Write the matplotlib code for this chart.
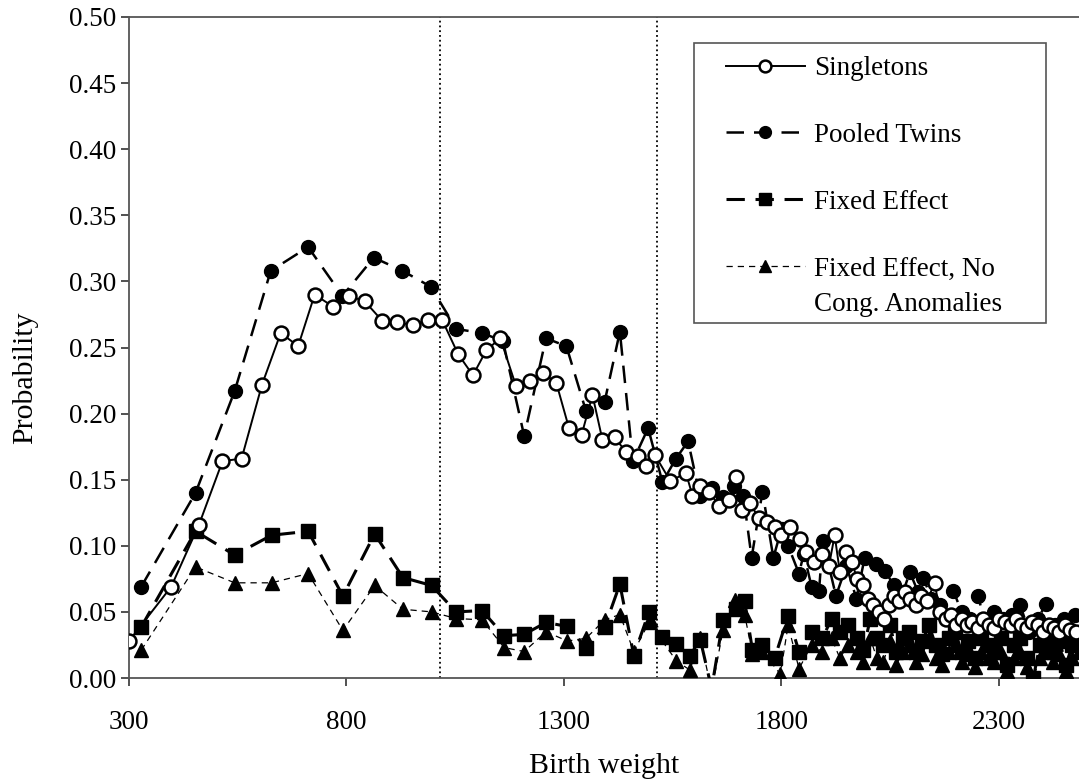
import matplotlib
matplotlib.use("Agg")
import matplotlib.pyplot as plt
from matplotlib.ticker import FormatStrFormatter
from matplotlib.patches import Rectangle

plt.rcParams['font.family'] = ['Liberation Serif', 'DejaVu Serif']

# ---- data ----
single_x = [300, 397, 461, 515, 559, 606, 649, 689, 727, 769, 806, 842, 883, 917, 953, 988, 1020,
            1057, 1091, 1122, 1154, 1190, 1222, 1252, 1283, 1312, 1341, 1366, 1389, 1417, 1443, 1471,
            1490, 1509, 1545, 1581, 1596, 1613, 1635, 1657, 1680, 1697, 1709, 1728, 1749, 1768, 1785,
            1800, 1820, 1843, 1858, 1875, 1895, 1910, 1923, 1935, 1950, 1962, 1975, 1988, 2000, 2012,
            2024, 2036, 2048, 2060, 2072, 2085, 2097, 2110, 2122, 2135, 2153, 2165, 2178, 2190, 2202,
            2215, 2228, 2240, 2252, 2265, 2278, 2290, 2302, 2315, 2328, 2340, 2352, 2365, 2378, 2390,
            2402, 2415, 2428, 2440, 2452, 2465, 2478]
single_y = [0.028, 0.069, 0.116, 0.164, 0.166, 0.222, 0.261, 0.251, 0.290, 0.281, 0.289, 0.285, 0.270,
            0.269, 0.267, 0.271, 0.271, 0.245, 0.229, 0.248, 0.257, 0.221, 0.225, 0.231, 0.223, 0.189,
            0.184, 0.214, 0.180, 0.182, 0.171, 0.168, 0.160, 0.169, 0.149, 0.155, 0.138, 0.145, 0.141,
            0.130, 0.135, 0.152, 0.127, 0.132, 0.121, 0.118, 0.114, 0.108, 0.114, 0.105, 0.095, 0.088,
            0.094, 0.085, 0.108, 0.080, 0.095, 0.088, 0.075, 0.070, 0.060, 0.055, 0.050, 0.045, 0.055,
            0.062, 0.058, 0.065, 0.060, 0.055, 0.062, 0.058, 0.072, 0.050, 0.045, 0.048, 0.040, 0.045,
            0.040, 0.042, 0.038, 0.045, 0.040, 0.038, 0.045, 0.042, 0.040, 0.045, 0.040, 0.038, 0.042,
            0.040, 0.035, 0.040, 0.038, 0.035, 0.040, 0.036, 0.035]

twins_x = [328, 453, 543, 626, 712, 791, 863, 929, 994, 1053, 1111, 1160, 1209, 1259, 1306, 1351, 1394,
           1429, 1459, 1494, 1527, 1558, 1586, 1613, 1642, 1666, 1691, 1713, 1732, 1757, 1782, 1801,
           1816, 1841, 1852, 1870, 1887, 1896, 1926, 1950, 1973, 1992, 2019, 2038, 2060, 2075, 2096,
           2115, 2127, 2145, 2165, 2196, 2215, 2235, 2253, 2270, 2290, 2310, 2330, 2350, 2370, 2390,
           2410, 2430, 2450, 2475]
twins_y = [0.069, 0.140, 0.217, 0.308, 0.326, 0.289, 0.318, 0.308, 0.296, 0.264, 0.261, 0.255, 0.183,
           0.257, 0.251, 0.202, 0.209, 0.262, 0.164, 0.189, 0.148, 0.166, 0.179, 0.138, 0.144, 0.137,
           0.145, 0.138, 0.091, 0.141, 0.091, 0.113, 0.100, 0.079, 0.094, 0.069, 0.066, 0.104, 0.062,
           0.085, 0.060, 0.091, 0.086, 0.081, 0.070, 0.060, 0.080, 0.065, 0.076, 0.060, 0.055, 0.066,
           0.050, 0.045, 0.062, 0.040, 0.050, 0.045, 0.048, 0.055, 0.035, 0.045, 0.056, 0.040, 0.045,
           0.048]

fe_x = [328, 453, 543, 628, 712, 792, 865, 930, 996, 1052, 1112, 1163, 1209, 1259, 1308, 1351, 1394,
        1429, 1461, 1496, 1526, 1559, 1590, 1614, 1640, 1666, 1696, 1716, 1734, 1757, 1785, 1816, 1841,
        1870, 1895, 1916, 1935, 1954, 1975, 1989, 2005, 2020, 2035, 2050, 2065, 2080, 2095, 2110, 2125,
        2140, 2155, 2170, 2185, 2200, 2215, 2230, 2245, 2260, 2275, 2290, 2305, 2320, 2335, 2350, 2365,
        2380, 2395, 2410, 2425, 2440, 2455, 2470, 2485]
fe_y = [0.0385, 0.111, 0.093, 0.108, 0.111, 0.062, 0.109, 0.076, 0.070, 0.050, 0.051, 0.032, 0.033,
        0.042, 0.039, 0.023, 0.0385, 0.071, 0.017, 0.050, 0.031, 0.026, 0.017, 0.029, -0.008, 0.0435,
        0.052, 0.058, 0.021, 0.025, 0.015, 0.047, 0.020, 0.035, 0.030, 0.045, 0.035, 0.040, 0.030,
        0.021, 0.045, 0.030, 0.025, 0.040, 0.020, 0.030, 0.035, 0.020, 0.028, 0.040, 0.025, 0.018,
        0.030, 0.035, 0.020, 0.028, 0.015, 0.030, 0.025, 0.020, 0.030, 0.010, 0.025, 0.030, 0.015,
        0.000, 0.025, 0.030, 0.020, 0.028, 0.010, 0.025, 0.030]

fena_x = [328, 453, 543, 628, 712, 792, 865, 930, 996, 1052, 1112, 1163, 1209, 1259, 1308, 1351, 1394,
          1429, 1461, 1496, 1559, 1590, 1614, 1640, 1666, 1694, 1716, 1734, 1757, 1798, 1816, 1841,
          1870, 1895, 1916, 1935, 1954, 1975, 1989, 2005, 2020, 2035, 2050, 2065, 2080, 2095, 2110,
          2125, 2140, 2155, 2170, 2185, 2200, 2215, 2230, 2245, 2260, 2275, 2290, 2305, 2320, 2335,
          2350, 2365, 2380, 2395, 2410, 2425, 2440, 2455, 2470, 2485]
fena_y = [0.021, 0.084, 0.072, 0.072, 0.079, 0.036, 0.070, 0.052, 0.050, 0.045, 0.044, 0.023, 0.020,
          0.035, 0.028, 0.030, 0.044, 0.048, 0.020, 0.042, 0.013, 0.006, 0.030, -0.010, 0.036, 0.059,
          0.048, 0.018, 0.020, 0.003, 0.040, 0.007, 0.025, 0.020, 0.030, 0.015, 0.025, 0.020, 0.012,
          0.030, 0.015, 0.012, 0.028, 0.010, 0.020, 0.025, 0.012, 0.018, 0.030, 0.015, 0.010, 0.020,
          0.025, 0.012, 0.018, 0.008, 0.020, 0.015, 0.012, 0.020, 0.005, 0.015, 0.020, 0.008, 0.000,
          0.015, 0.020, 0.012, 0.018, 0.005, 0.015, 0.020]

cutoffs = [1016, 1515]
labels = ["Singletons", "Pooled Twins", "Fixed Effect", "Fixed Effect, No"]
label_cont = "Cong. Anomalies"
xticks = [300, 800, 1300, 1800, 2300]
yticks = [0.0, 0.05, 0.10, 0.15, 0.20, 0.25, 0.30, 0.35, 0.40, 0.45, 0.50]

W, H = 1079, 784
TICK_FS = 19.5
LABEL_FS = 21.5
LEG_FS = 19.5

# ---- figure ----
fig = plt.figure(figsize=(W / 100, H / 100), dpi=100)
ax = fig.add_axes([129 / W, 1 - 678 / H, 1 - 129 / W, (678 - 17) / H])

ax.plot(single_x, single_y, color='black', lw=1.4, ls='-', marker='o', ms=10,
        mfc='white', mec='black', mew=1.8, label=labels[0], zorder=5)
ax.plot(twins_x, twins_y, color='black', lw=1.8, ls=(0, (7, 4)), marker='o', ms=10,
        mfc='black', mec='black', label=labels[1], zorder=4)
ax.plot(fe_x, fe_y, color='black', lw=2.2, ls=(0, (6, 3.5)), marker='s', ms=10,
        mfc='black', mec='black', label=labels[2], zorder=3)
ax.plot(fena_x, fena_y, color='black', lw=0.9, ls=(0, (5, 4)), marker='^', ms=10,
        mfc='black', mec='black', label=labels[3], zorder=3)

for c in cutoffs:
    ax.axvline(c, color='black', ls=':', lw=1.3, zorder=1)

ax.set_xlim(300, 2485)
ax.set_ylim(0, 0.5)
ax.set_xticks(xticks)
ax.set_yticks(yticks)
ax.yaxis.set_major_formatter(FormatStrFormatter('%.2f'))
ax.tick_params(axis='both', direction='out', length=6, width=1.2, labelsize=TICK_FS, color='#333333')
ax.tick_params(axis='x', pad=17)
ax.tick_params(axis='y', pad=3)

for s in ['left', 'bottom', 'top']:
    ax.spines[s].set_color('#555555')
    ax.spines[s].set_linewidth(1.3)
ax.spines['right'].set_visible(False)

ax.set_xlabel("Birth weight", fontsize=LABEL_FS)
ax.set_ylabel("Probability", fontsize=LABEL_FS)
ax.xaxis.label.set_va('center')
ax.yaxis.label.set_va('center')
ax.xaxis.set_label_coords(0.5, (678 - 766) / 661)
ax.yaxis.set_label_coords((25 - 129) / 950, (678 - 378) / 661)

leg = ax.legend(loc='upper left', bbox_to_anchor=(726 / W, 1 - 56 / H),
                bbox_transform=fig.transFigure, frameon=False, fontsize=LEG_FS,
                handlelength=2.9, labelspacing=1.55, borderpad=0, handletextpad=0.35,
                borderaxespad=0, markerscale=0.85)

# second line of the last legend label, placed under the first line
fig.canvas.draw()
t_last = leg.get_texts()[3]
bb = t_last.get_window_extent()
fig.text(bb.x0 / W, (bb.y0 - 35) / H, label_cont, fontsize=LEG_FS,
         ha='left', va='bottom')

fig.patches.append(Rectangle((694 / W, 1 - 323 / H), (1046 - 694) / W, (323 - 43) / H,
                             transform=fig.transFigure, fill=False, edgecolor='#555555',
                             linewidth=1.2, zorder=10))

fig.savefig("out.png", dpi=100)
